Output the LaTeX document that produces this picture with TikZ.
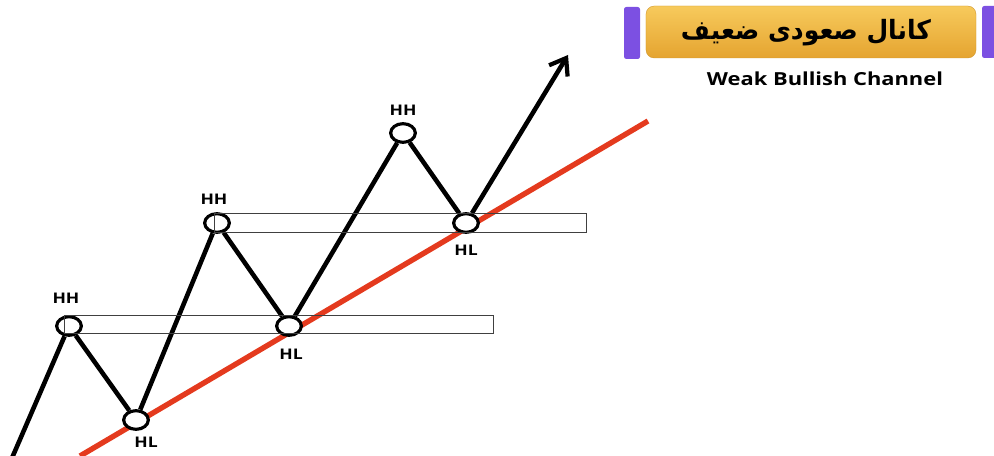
\documentclass[tikz,border=0pt]{standalone}
\usepackage{fontspec}
\setmainfont{Open Sans}
\newfontfamily\arabicfont[Script=Arabic]{DejaVu Sans}
\TeXXeTstate=1
\usetikzlibrary{shapes.geometric,arrows.meta}
\definecolor{trendred}{RGB}{228,58,30}
\definecolor{goldtop}{RGB}{247,202,92}
\definecolor{goldbot}{RGB}{229,164,48}
\definecolor{barpurple}{RGB}{124,80,226}
\begin{document}
\begin{tikzpicture}[x=0.03cm,y=-0.03cm,
  pivot/.style={ellipse,draw=black,line width=2.7pt,fill=white,minimum width=0.74cm,minimum height=0.56cm,inner sep=0pt},
  zone/.style={draw=black!75,line width=0.6pt},
  swing/.style={line width=3.9pt,line join=round},
  trend/.style={draw=trendred,line width=4.6pt},
  lbl/.style={font=\fontsize{12.5}{13}\selectfont\bfseries,inner sep=0pt},
  bar/.style={fill=barpurple,rounded corners=2pt}]
\useasboundingbox (0,0) rectangle (994,456);

% header
\fill[bar] (624,7) rectangle (640,59);
\fill[bar] (982,6) rectangle (1000,58);
\node (titlebox) [rounded corners=7pt,top color=goldtop,bottom color=goldbot,draw=goldbot!90!black,line width=0.3pt,
  minimum width=9.9cm,minimum height=1.56cm,inner sep=0pt] at (811,32) {};
\node (title) at (806,33) [inner sep=0pt] {\resizebox*{7.5cm}{0.8cm}{\arabicfont\bfseries\beginR کانال صعودی ضعیف\endR}};
\node (subtitle) at (825,79) [inner sep=0pt] {\resizebox{7.08cm}{0.41cm}{\bfseries Weak Bullish Channel}};

% trend line
\coordinate (redA) at (80,456);
\coordinate (redB) at (648,121);
\draw[trend] (redA) -- (redB);

% pivots
\node[pivot] (hh1) at (69,326) {};
\node[pivot] (hl1) at (136,420) {};
\node[pivot] (hh2) at (217,223) {};
\node[pivot] (hl2) at (289,326) {};
\node[pivot] (hh3) at (403,133) {};
\node[pivot] (hl3) at (466,223) {};
\coordinate (start) at (12,458);
\coordinate (tip) at (568,55);

\draw[swing] (start) -- (hh1) -- (hl1) -- (hh2) -- (hl2) -- (hh3) -- (hl3);
\draw[swing,-{Straight Barb[length=4.5mm,width=6.5mm,line width=3.6pt]}] (hl3) -- (tip);

% zones
\draw[zone] (64,315) rectangle (493,333);
\draw[zone] (214,213) rectangle (586,232);

% labels
\node[lbl] (lhh1) at (66,298) {\scalebox{1.2}[1]{HH}};
\node[lbl] (lhh2) at (214,199) {\scalebox{1.2}[1]{HH}};
\node[lbl] (lhh3) at (403,110) {\scalebox{1.2}[1]{HH}};
\node[lbl] (lhl1) at (146,442) {\scalebox{1.2}[1]{HL}};
\node[lbl] (lhl2) at (291,354) {\scalebox{1.2}[1]{HL}};
\node[lbl] (lhl3) at (466,250) {\scalebox{1.2}[1]{HL}};
\end{tikzpicture}
\end{document}
